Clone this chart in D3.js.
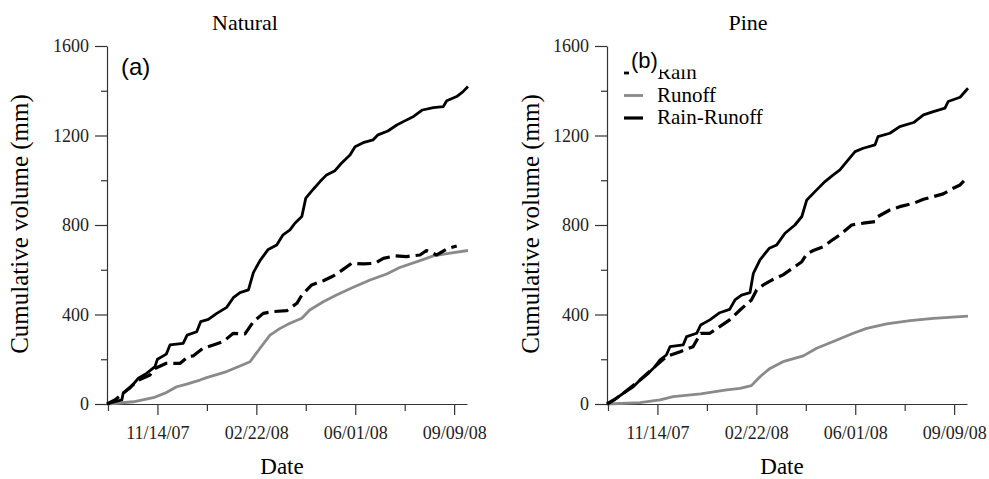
<!DOCTYPE html>
<html>
<head>
<meta charset="utf-8">
<script src="https://cdn.jsdelivr.net/npm/d3@7"></script>
<style>
  body { margin: 0; background: #fff; }
  svg { display: block; }
</style>
</head>
<body>
<script>
// days counted from 09/24/07
var startDate = new Date(2007, 8, 24);
var endDate = new Date(2008, 8, 22);

var xTickDates = ["2007-09-25", "2007-11-14", "2008-01-03", "2008-02-22",
                  "2008-04-12", "2008-06-01", "2008-07-21", "2008-09-09"];
var yMajorTicks = [0, 400, 800, 1200, 1600];
var yMinorTicks = [200, 600, 1000, 1400];

var panelTitles = ["Natural", "Pine"];
var panelTags = ["(a)", "(b)"];
var legendNames = ["Rain", "Runoff", "Rain-Runoff"];

// panel (a) Natural : [day, mm]
var rainA = [[0,0],[8,10],[15,18],[16.5,51],[23,70],[31.7,115],[40,137],[48.5,167],[51,200],[60,223],
  [63.7,264],[77,271],[81,308],[90.7,323],[94.7,368],[102.5,378],[111,405],[121,432],[127.7,475],
  [134.5,498],[143,510],[148,587],[154.7,641],[163,691],[171.6,711],[178,756],[185,778],[190,808],
  [197,838],[201,920],[208.6,960],[215.4,994],[222,1024],[230.5,1043],[237,1076],[245.7,1113],
  [250.8,1150],[259,1168],[269,1180],[274,1203],[284,1220],[293,1247],[299.6,1262],[310,1285],
  [319,1314],[330,1325],[340,1329],[343.5,1355],[353.6,1374],[360,1396],[365,1419]];
var runoffA = [[1,0],[26.6,10],[46.8,28],[60,51],[70.5,77],[80.6,89],[94,107],[100.8,118],[121,145],
  [134.5,170],[144.6,189],[154.7,249],[164.8,308],[175,338],[185,361],[197,383],[205,420],[218.7,457],
  [232,487],[249,522],[266,554],[282.8,581],[296,610],[316.5,641],[330,662],[347,674],[365,686]];
var diffA = [[0,0],[8,18],[16.5,48],[31.7,107],[43.5,130],[48.5,159],[60,182],[74,182],[82,212],
  [87,215],[97,249],[107.5,264],[117.6,279],[127.7,316],[139.5,313],[148,368],[158,405],[168,413],
  [181.7,417],[192,450],[197,487],[207,532],[218.7,551],[228.8,572],[237,596],[247.4,629],[259,626],
  [271,629],[279.4,651],[291,662],[303,659],[316.5,666],[323,686],[333.4,666],[345,696],[353.6,706]];

// panel (b) Pine : [day, mm]
var rainB = [[0,0],[8,21],[16.5,48],[26.6,77],[33.4,107],[41.8,137],[48.5,167],[53.6,197],[60,219],
  [63.7,256],[77,264],[80.5,301],[90.7,316],[94.7,353],[104,376],[114,408],[124,423],[129.4,465],
  [136,487],[144.6,498],[148,584],[154.7,644],[164,696],[171.6,711],[180,763],[190,800],[197,838],
  [202,912],[212,957],[220.4,994],[228.8,1024],[235.5,1046],[242.4,1083],[250.8,1128],[259,1143],
  [271,1158],[274,1195],[286,1210],[296,1240],[310,1258],[320,1292],[330,1307],[341.7,1322],
  [345,1352],[357,1371],[365,1411]];
var runoffB = [[1,0],[33.4,6],[53.6,18],[67,33],[94.7,45],[121,63],[134.5,70],[146,82],[154.7,122],
  [164.8,159],[178,189],[198.5,215],[212,249],[228.8,279],[249,316],[262.6,338],[282.8,358],
  [306.4,373],[330,383],[365,393]];
var diffB = [[0,0],[8,21],[16.5,48],[33.4,107],[48.5,167],[60,212],[74,234],[87,256],[94.7,316],
  [104,316],[114,346],[124,376],[134.5,420],[146,465],[151.3,510],[158,532],[168,557],[178,577],
  [190,614],[197,636],[202,671],[208.6,686],[218.7,703],[228.8,736],[235.5,756],[247.4,800],
  [259,808],[271,815],[274,838],[286,867],[296,882],[310,897],[320,915],[330,927],[340,939],
  [350,964],[357,979],[365,1016]];

var serif = "'Liberation Serif', 'Times New Roman', serif";
var sans = "'Liberation Sans', Arial, sans-serif";
var grey = "#8a8a8a";

var svg = d3.select("body").append("svg")
    .attr("width", 989)
    .attr("height", 479);

function drawPanel(i, ox, labelX, rain, runoff, diff, showLegend) {
    var g = svg.append("g").attr("transform", "translate(" + ox + ",0)");

    var x = d3.scaleTime().domain([startDate, endDate]).range([107, 467]);
    var y = d3.scaleLinear().domain([0, 1600]).range([404, 46]);

    var ticks = xTickDates.map(function (s) { return d3.timeParse("%Y-%m-%d")(s); });
    var majors = ticks.filter(function (d, k) { return k % 2 == 1; });
    var minors = ticks.filter(function (d, k) { return k % 2 == 0; });

    // x axis
    g.append("g")
        .attr("transform", "translate(0,404)")
        .call(d3.axisBottom(x).tickValues(majors).tickSize(11).tickSizeOuter(0)
            .tickPadding(11).tickFormat(d3.timeFormat("%m/%d/%y")));
    g.append("g")
        .attr("transform", "translate(0,404)")
        .call(d3.axisBottom(x).tickValues(minors).tickSize(7).tickSizeOuter(0).tickFormat(""))
        .select(".domain").remove();

    // y axis
    g.append("g")
        .attr("transform", "translate(107,0)")
        .call(d3.axisLeft(y).tickValues(yMajorTicks).tickSize(12).tickSizeOuter(0)
            .tickPadding(6).tickFormat(d3.format("d")));
    g.append("g")
        .attr("transform", "translate(107,0)")
        .call(d3.axisLeft(y).tickValues(yMinorTicks).tickSize(6).tickSizeOuter(0).tickFormat(""))
        .select(".domain").remove();

    g.selectAll(".domain, .tick line").attr("stroke", "#333").attr("stroke-width", 1.2);
    g.selectAll(".tick text")
        .attr("fill", "#222")
        .style("font-family", serif)
        .style("font-size", "18px");

    var line = d3.line()
        .x(function (d) { return x(startDate.getTime() + d[0] * 864e5); })
        .y(function (d) { return y(d[1]); });

    g.append("path").datum(runoff)
        .attr("d", line).attr("fill", "none")
        .attr("stroke", grey).attr("stroke-width", 2.8).attr("stroke-linejoin", "round");
    g.append("path").datum(diff)
        .attr("d", line).attr("fill", "none")
        .attr("stroke", "#000").attr("stroke-width", 3.2)
        .attr("stroke-dasharray", "14,6").attr("stroke-linejoin", "round");
    g.append("path").datum(rain)
        .attr("d", line).attr("fill", "none")
        .attr("stroke", "#000").attr("stroke-width", 2.8).attr("stroke-linejoin", "round");

    // title
    g.append("text")
        .attr("x", 245 + (i ? 3 : 0)).attr("y", 30)
        .attr("text-anchor", "middle")
        .style("font-family", serif).style("font-size", "22px")
        .text(panelTitles[i]);

    // X label
    g.append("text")
        .attr("x", 282).attr("y", 474)
        .attr("text-anchor", "middle")
        .style("font-family", serif).style("font-size", "23px")
        .text("Date");

    // Y label
    g.append("text")
        .attr("text-anchor", "middle")
        .attr("transform", "translate(" + labelX + ",224)rotate(-90)")
        .style("font-family", serif).style("font-size", "25px")
        .text("Cumulative volume (mm)");

    if (showLegend) {
        var styles = [["#000", 2.8], [grey, 2.8], ["#000", 3.2]];
        legendNames.forEach(function (name, k) {
            var ly = 73 + k * 22.5;
            g.append("line")
                .attr("x1", 124).attr("x2", 143).attr("y1", ly).attr("y2", ly)
                .attr("stroke", styles[k][0]).attr("stroke-width", styles[k][1]);
            g.append("text")
                .attr("x", 157).attr("y", ly + 6)
                .style("font-family", serif).style("font-size", "21px")
                .text(name);
        });
        // the panel tag sits on a white box over the first legend row
        g.append("rect").attr("x", 129).attr("y", 44).attr("width", 31).attr("height", 33).attr("fill", "#fff");
        g.append("rect").attr("x", 160).attr("y", 44).attr("width", 45).attr("height", 25.5).attr("fill", "#fff");
        g.append("text")
            .attr("x", 131).attr("y", 68)
            .style("font-family", sans).style("font-size", "22px")
            .text(panelTags[i]);
    } else {
        g.append("text")
            .attr("x", 121).attr("y", 75)
            .style("font-family", sans).style("font-size", "24px")
            .text(panelTags[i]);
    }
}

drawPanel(0, 0, 28, rainA, runoffA, diffA, false);
drawPanel(1, 500, 39, rainB, runoffB, diffB, true);
</script>
</body>
</html>
